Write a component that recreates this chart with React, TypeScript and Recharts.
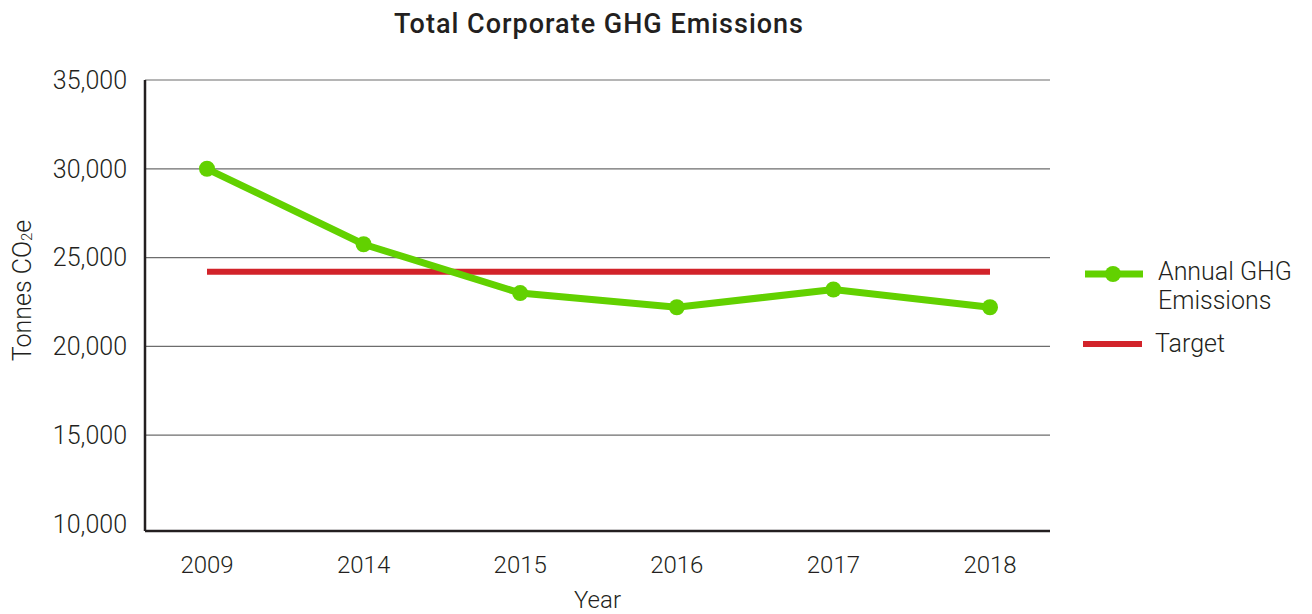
import { LineChart, Line, XAxis, YAxis, CartesianGrid } from 'recharts'

const years = ['2009', '2014', '2015', '2016', '2017', '2018']
const annualEmissions = [30000, 25750, 23000, 22200, 23200, 22200]
const targetEmissions = [24200, 24200, 24200, 24200, 24200, 24200]
const yTicks = [10000, 15000, 20000, 25000, 30000, 35000]
const gridValues = [15000, 20000, 25000, 30000, 35000]

const data = years.map((year, i) => ({
  year,
  annual: annualEmissions[i],
  target: targetEmissions[i],
}))

const GREEN = '#62d100'
const RED = '#d2232a'
const INK = '#231f20'
const FONT = 'Roboto, "Open Sans", sans-serif'

const YLabel = ({ viewBox }: any) => {
  const x = viewBox.x + 22
  const y = viewBox.y + viewBox.height / 2 - 15
  return (
    <text
      x={x}
      y={y}
      transform={`rotate(-90, ${x}, ${y})`}
      textAnchor="middle"
      dominantBaseline="central"
      fontSize={25}
      fontWeight={300}
      fill={INK}
      fontFamily={FONT}
    >
      Tonnes CO<tspan dy={5} fontSize={15}>2</tspan><tspan dy={-5}>e</tspan>
    </text>
  )
}

export default function App() {
  return (
    <div style={{ position: 'absolute', left: 0, top: 0, width: 1312, height: 614, background: '#fff', fontFamily: FONT }}>
      <div
        style={{
          position: 'absolute', left: 0, width: 1198, top: 8, textAlign: 'center',
          fontSize: 27, fontWeight: 500, color: INK, whiteSpace: 'nowrap', letterSpacing: 1,
        }}
      >
        Total Corporate GHG Emissions
      </div>

      <LineChart width={1312} height={614} data={data} margin={{ top: 80, right: 262, bottom: 0, left: 0 }}>
        <CartesianGrid vertical={false} horizontalValues={gridValues} stroke="#6d6d6d" strokeWidth={1.2} />
        <XAxis
          dataKey="year"
          height={83}
          padding={{ left: 62, right: 60 }}
          tickLine={false}
          tickSize={0}
          tickMargin={25}
          axisLine={{ stroke: INK, strokeWidth: 2.5 }}
          tick={{ fontSize: 24, fontWeight: 300, fill: INK, fontFamily: FONT }}
          label={{ value: 'Year', position: 'insideBottom', offset: 6, fontSize: 24, fontWeight: 300, fill: INK, fontFamily: FONT }}
        />
        <YAxis
          width={145}
          domain={[9600, 35000]}
          ticks={yTicks}
          interval={0}
          tickLine={false}
          tickSize={0}
          tickMargin={18}
          axisLine={{ stroke: INK, strokeWidth: 2.5 }}
          tickFormatter={(v: number) => v.toLocaleString('en-US')}
          tick={{ fontSize: 25, fontWeight: 300, fill: INK, fontFamily: FONT }}
          label={{ content: <YLabel /> }}
        />
        <Line
          dataKey="target"
          stroke={RED}
          strokeWidth={6}
          dot={false}
          activeDot={false}
          strokeLinecap="butt"
          isAnimationActive={false}
        />
        <Line
          dataKey="annual"
          stroke={GREEN}
          strokeWidth={7}
          dot={{ r: 8, fill: GREEN, stroke: 'none' }}
          activeDot={false}
          isAnimationActive={false}
        />
      </LineChart>

      <div style={{ position: 'absolute', left: 1080, top: 256, width: 232, color: INK, fontSize: 25, fontWeight: 300, whiteSpace: 'nowrap' }}>
        <div style={{ display: 'flex', alignItems: 'flex-start' }}>
          <svg width={70} height={36} style={{ flex: 'none' }}>
            <line x1={5} y1={18} x2={63} y2={18} stroke={GREEN} strokeWidth={7} />
            <circle cx={33} cy={18} r={8} fill={GREEN} />
          </svg>
          <div style={{ marginLeft: 8, lineHeight: '29px', marginTop: 1 }}>
            Annual GHG<br />Emissions
          </div>
        </div>
        <div style={{ display: 'flex', alignItems: 'center', marginTop: 14 }}>
          <svg width={70} height={30} style={{ flex: 'none' }}>
            <line x1={3} y1={15} x2={62} y2={15} stroke={RED} strokeWidth={6} />
          </svg>
          <div style={{ marginLeft: 5, lineHeight: '30px' }}>Target</div>
        </div>
      </div>
    </div>
  )
}
